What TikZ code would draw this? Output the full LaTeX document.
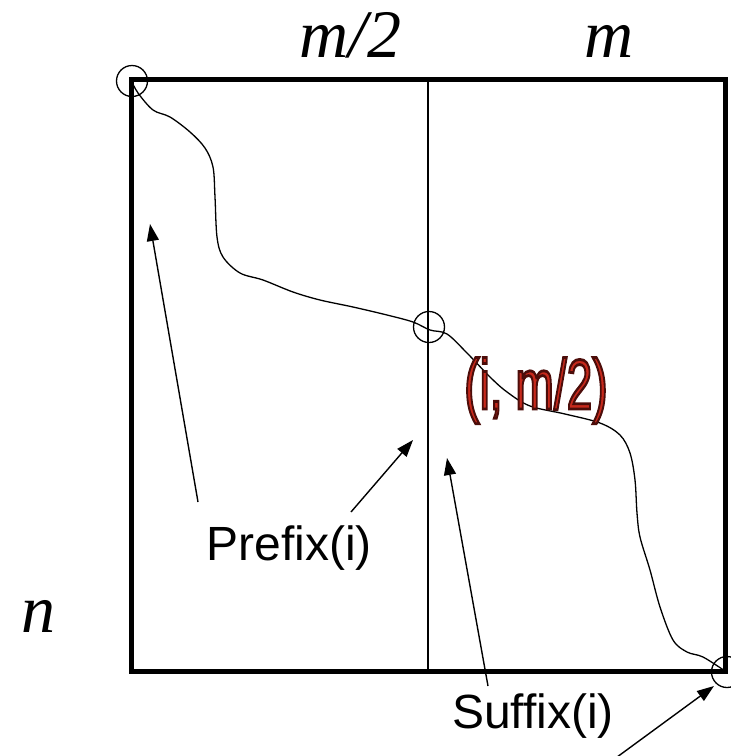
\documentclass[tikz,border=0pt]{standalone}
\usepackage{fontspec}
\usetikzlibrary{arrows.meta}
\newfontfamily\arialf{Liberation Sans}
\newfontfamily\ptfont{Liberation Sans}[FakeBold=4]
\newfontfamily\timesit{Liberation Serif}
\newcommand\outl[1]{\special{pdf:bcolor [0.78 0.16 0.11] [0.30 0.05 0.04]}#1\special{pdf:ecolor}}
\begin{document}
\begin{tikzpicture}[x=1pt,y=-1pt,
  frame/.style={line width=5pt},
  thinline/.style={line width=1.5pt},
  ring/.style={circle,draw,line width=1.3pt,minimum size=31pt,inner sep=0pt},
  ptr/.style={line width=1.4pt,-{Triangle[length=17pt,width=12pt]}},
  axis/.style={font=\fontsize{68}{70}\selectfont\timesit\itshape,anchor=base,inner sep=0pt},
  lbl/.style={font=\fontsize{48}{52}\selectfont\arialf},
]
\useasboundingbox (0,0) rectangle (731,756);
% frame
\draw[frame] (131,79) rectangle (725,671);
\draw[thinline] (428,79) -- (428,671);
% axis labels
\node[axis] (mh) at (350,57) {m/2};
\node[axis] (mm) at (609,57) {m};
\node[axis] (nn) at (38,632) {n};
% path
\draw[line width=1.3pt] plot[smooth,tension=0.55] coordinates {
 (131,80) (138,93) (153,110) (170,117) (190,132) (205,148) (213,167) (215,197)
 (217,237) (223,257) (240,273) (263,280) (293,292) (320,300) (353,307) (387,315)
 (413,322) (430,330) (447,334) (467,353) (490,377) (507,392) (530,406) (565,414)
 (600,423) (620,435) (630,453) (635,480) (637,513) (640,537) (650,570) (660,607)
 (673,640) (687,652) (703,657) (725,671)};
% rings
\node[ring] (c1) at (132,81) {};
\node[ring] (c2) at (429,327) {};
\node[ring] (c3) at (727,672) {};
% point label
\node[font=\fontsize{71}{73}\selectfont\ptfont, xscale=0.65, anchor=base, inner sep=0pt] (pt) at (536,409) {\outl{(i, m/2)}};
% labels
\node[lbl] (pre) at (289,548) {Prefix(i)};
\node[lbl] (suf) at (533,716) {Suffix(i)};
\coordinate (pa) at (198,502);
\coordinate (pb) at (351,512);
\coordinate (sa) at (488,686);
\coordinate (sb) at (613,760);
\coordinate (ta) at (150,224);
\coordinate (tb) at (413,440);
\coordinate (tc) at (447,458);
\coordinate (td) at (714,686);
\draw[ptr] (pa) -- (ta);
\draw[ptr] (pb) -- (tb);
\draw[ptr] (sa) -- (tc);
\draw[ptr] (sb) -- (td);
\end{tikzpicture}
\end{document}
